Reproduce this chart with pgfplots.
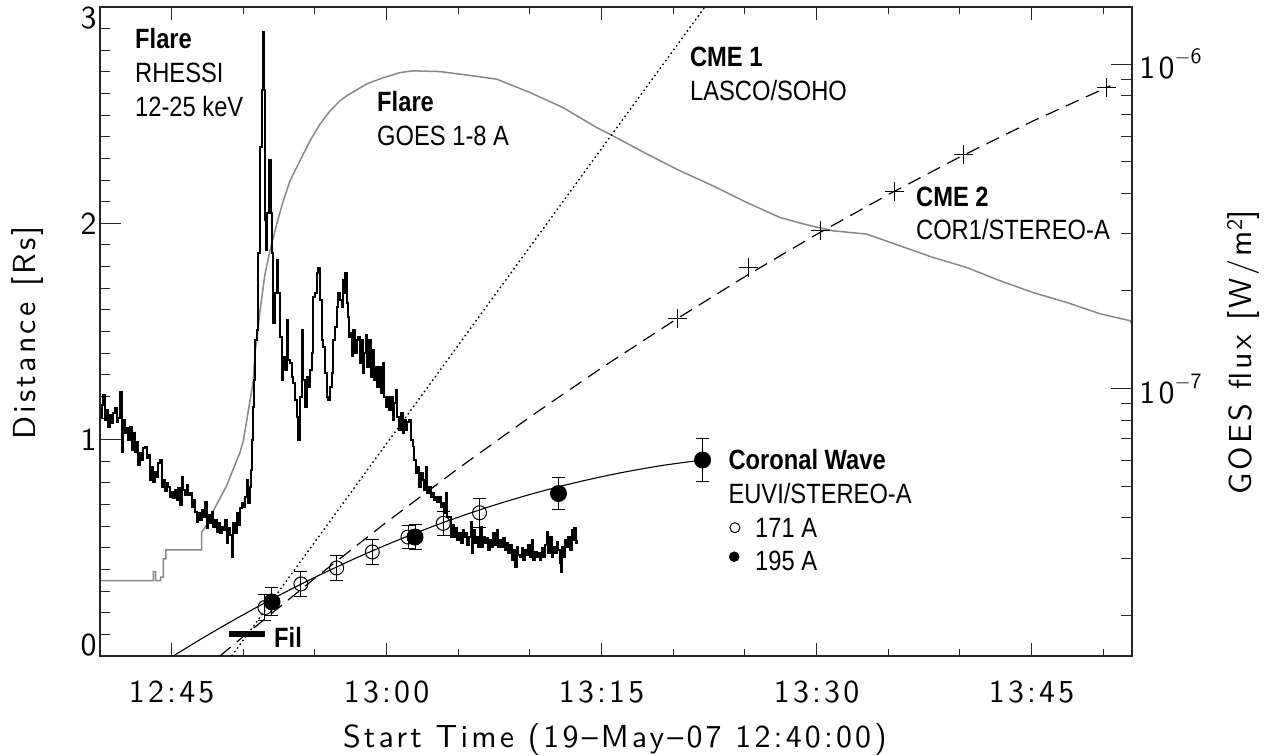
\documentclass[border=0pt]{standalone}
\usepackage{fontspec}
\usepackage{pgfplots}
\pgfplotsset{compat=1.18}
\newfontfamily\annot[FakeStretch=0.85]{Liberation Sans}
\newfontfamily\lms[LetterSpace=10]{lmsans10-regular.otf}
\newcommand\tf{\lms\fontsize{32}{38}\selectfont}
\newcommand\af{\annot\fontsize{28}{32}\selectfont}
\definecolor{goesgray}{gray}{0.53}
\definecolor{axc}{gray}{0.15}

\pgfplotstableread{
t y
0.000 1.106
0.119 1.160
0.230 1.207
0.349 1.091
0.467 1.137
0.579 1.060
0.698 1.114
0.816 1.076
0.928 1.122
1.047 1.145
1.165 1.083
1.277 1.099
1.395 1.222
1.514 0.944
1.626 1.091
1.744 1.029
1.863 1.053
1.974 0.998
2.093 1.060
2.212 0.952
2.323 1.029
2.442 0.944
2.560 0.991
2.672 0.883
2.791 0.937
2.909 0.906
3.021 0.960
3.140 0.968
3.258 0.914
3.370 0.929
3.488 0.814
3.607 0.875
3.719 0.806
3.837 0.852
3.956 0.829
4.067 0.891
4.186 0.906
4.305 0.783
4.416 0.814
4.535 0.760
4.653 0.798
4.765 0.783
4.884 0.736
5.002 0.760
5.114 0.729
5.233 0.767
5.351 0.721
5.463 0.775
5.581 0.698
5.700 0.829
5.812 0.767
5.930 0.744
6.049 0.790
6.160 0.744
6.279 0.752
6.398 0.690
6.509 0.721
6.628 0.667
6.746 0.621
6.858 0.660
6.977 0.629
7.095 0.675
7.207 0.644
7.326 0.713
7.444 0.590
7.556 0.652
7.674 0.613
7.793 0.667
7.905 0.598
8.023 0.629
8.142 0.575
8.253 0.613
8.372 0.567
8.491 0.598
8.602 0.582
8.721 0.629
8.840 0.521
8.951 0.590
9.070 0.559
9.188 0.459
9.300 0.613
9.419 0.567
9.537 0.660
9.649 0.606
9.767 0.683
9.886 0.706
9.998 0.690
10.116 0.736
10.235 0.814
10.347 0.706
10.465 0.783
10.514 0.860
10.584 0.998
10.695 1.152
10.765 1.276
10.814 1.461
10.933 1.507
11.044 1.862
11.163 2.354
11.282 2.616
11.352 2.886
11.442 2.616
11.512 2.015
11.581 1.877
11.672 2.046
11.812 2.293
11.909 2.046
11.979 1.862
12.091 1.538
12.209 1.677
12.328 1.831
12.440 1.677
12.558 1.476
12.677 1.276
12.788 1.384
12.907 1.322
13.026 1.553
13.137 1.368
13.256 1.353
13.374 1.291
13.486 1.261
13.605 1.183
13.723 1.106
13.835 1.000
13.953 1.199
14.072 1.507
14.184 1.276
14.302 1.152
14.421 1.291
14.533 1.245
14.651 1.322
14.770 1.399
14.882 1.661
15.000 1.677
15.119 1.769
15.230 1.792
15.349 1.646
15.467 1.461
15.579 1.430
15.698 1.307
15.816 1.199
15.928 1.183
16.047 1.245
16.165 1.307
16.277 1.461
16.395 1.522
16.514 1.615
16.626 1.677
16.744 1.646
16.863 1.615
16.933 1.738
17.023 1.677
17.093 1.769
17.212 1.630
17.323 1.568
17.393 1.476
17.491 1.492
17.561 1.384
17.672 1.507
17.791 1.399
17.910 1.461
18.021 1.476
18.140 1.353
18.258 1.461
18.328 1.307
18.419 1.399
18.558 1.484
18.649 1.337
18.788 1.461
18.886 1.291
19.025 1.415
19.116 1.276
19.256 1.337
19.346 1.245
19.486 1.337
19.584 1.214
19.723 1.353
19.814 1.199
19.953 1.152
20.044 1.199
20.184 1.137
20.281 1.199
20.421 1.091
20.512 1.168
20.651 1.230
20.742 1.106
20.882 1.045
20.979 1.122
21.119 1.029
21.210 1.091
21.349 1.045
21.440 1.083
21.579 1.091
21.677 0.998
21.816 0.968
21.907 0.906
22.047 0.845
22.137 0.875
22.277 0.783
22.374 0.845
22.514 0.814
22.605 0.767
22.744 0.875
22.835 0.752
22.974 0.783
23.072 0.736
23.212 0.752
23.302 0.721
23.442 0.736
23.533 0.713
23.672 0.736
23.770 0.690
23.909 0.706
24.000 0.660
24.140 0.752
24.230 0.644
24.370 0.644
24.47 0.551
24.61 0.606
24.70 0.551
24.84 0.590
24.93 0.536
25.07 0.567
25.17 0.521
25.30 0.582
25.40 0.551
25.53 0.567
25.63 0.513
25.77 0.551
25.86 0.621
25.95 0.475
26.05 0.582
26.16 0.521
26.28 0.551
26.39 0.505
26.51 0.598
26.63 0.505
26.74 0.551
26.86 0.521
26.98 0.544
27.09 0.490
27.21 0.536
27.33 0.505
27.44 0.567
27.56 0.513
27.68 0.582
27.79 0.505
27.91 0.536
28.03 0.505
28.14 0.544
28.26 0.490
28.37 0.521
28.49 0.475
28.61 0.513
28.72 0.444
28.84 0.490
28.96 0.413
29.07 0.505
29.19 0.467
29.30 0.459
29.42 0.498
29.53 0.444
29.65 0.490
29.77 0.467
29.88 0.513
30.00 0.459
30.12 0.536
30.23 0.444
30.35 0.482
30.47 0.459
30.58 0.475
30.70 0.444
30.81 0.498
30.93 0.459
31.05 0.513
31.16 0.575
31.28 0.475
31.40 0.551
31.51 0.459
31.63 0.505
31.74 0.475
31.86 0.528
31.98 0.490
32.09 0.429
32.16 0.390
32.23 0.505
32.33 0.459
32.44 0.536
32.56 0.505
32.67 0.551
32.79 0.490
32.91 0.582
33.02 0.536
33.09 0.590
33.21 0.521
33.30 0.536
}\rhessi

\pgfplotstableread{
t f
0 2.563e-8
3.72 2.563e-8
3.72 2.731e-8
3.88 2.731e-8
3.88 2.563e-8
4.23 2.563e-8
4.23 2.624e-8
4.42 2.624e-8
4.42 2.988e-8
4.60 2.988e-8
4.60 3.185e-8
7.09 3.185e-8
7.09 3.608e-8
7.33 3.738e-8
7.67 3.922e-8
7.79 4.112e-8
8.18 4.432e-8
8.84 5.027e-8
9.30 5.657e-8
9.77 6.365e-8
10.00 6.917e-8
10.235 7.968e-8
10.465 9.183e-8
10.695 1.058e-7
10.814 1.279e-7
11.163 1.735e-7
11.512 2.256e-7
11.86 2.661e-7
12.328 3.215e-7
12.788 3.793e-7
13.256 4.370e-7
13.953 5.037e-7
14.651 5.802e-7
15.349 6.534e-7
16.047 7.180e-7
16.744 7.709e-7
17.21 7.988e-7
18.61 8.696e-7
19.74 9.073e-7
20.93 9.421e-7
21.84 9.537e-7
23.72 9.488e-7
26.02 9.204e-7
27.68 8.991e-7
30.00 8.177e-7
32.30 7.351e-7
34.65 6.378e-7
35.79 6.014e-7
38.14 5.292e-7
40.47 4.690e-7
42.77 4.218e-7
45.12 3.749e-7
47.44 3.370e-7
49.30 3.199e-7
51.14 3.066e-7
53.49 2.995e-7
55.81 2.756e-7
58.12 2.538e-7
60.47 2.363e-7
62.79 2.151e-7
65.09 1.979e-7
67.44 1.844e-7
69.77 1.702e-7
71.86 1.620e-7
72.00 1.585e-7
}\goes

\pgfplotstableread{
t y
5.11 0
7 0.0765
9 0.1538
11 0.2275
13 0.2976
15 0.3640
18 0.4569
21 0.5416
24 0.6182
27 0.6865
30 0.7467
33 0.7987
36 0.8425
39 0.8783
42.02 0.906
}\wavefit

\pgfplotstableread{
t y
8.37 0.000
10 0.090
15 0.360
20 0.619
25 0.867
30 1.105
35 1.332
40 1.548
45 1.754
50 1.949
55 2.133
60 2.307
65 2.470
70.5 2.636
}\cmetwofit

\pgfplotstableread{
t y
40.31 1.561
45.23 1.795
50.28 1.966
55.42 2.146
60.23 2.319
70.24 2.629
}\cmetwo

\pgfplotstableread{
t y e
11.51 0.224 0.058
14.02 0.333 0.058
16.51 0.407 0.058
19.00 0.481 0.056
21.49 0.550 0.054
23.95 0.613 0.057
26.48 0.662 0.066
}\wopen

\pgfplotstableread{
t y e
12.00 0.250 0.065
21.98 0.550 0.058
31.99 0.751 0.072
42.04 0.906 0.100
}\wfilled

\pgfplotsset{base/.style={at={(100bp,100bp)}, anchor=south west,
  scale only axis, width=1032bp, height=649bp, xmin=0, xmax=72,
  tick align=inside, axis line style={line width=1.2bp, axc},
  tick style={line width=1bp, axc},
  /pgf/number format/assume math mode=true}}

\begin{document}
\begin{tikzpicture}
% right axis: GOES flux (log)
\begin{axis}[base, ymode=log, ymin=1.5e-8, ymax=1.5e-6,
  xtick=\empty, ytick pos=right, yticklabel pos=right,
  ytick={1e-7,1e-6},
  yticklabels={{10\raisebox{15bp}{\fontsize{22}{24}\selectfont$-$7}},{10\raisebox{15bp}{\fontsize{22}{24}\selectfont$-$6}}},
  minor ytick={2e-8,3e-8,4e-8,5e-8,6e-8,7e-8,8e-8,9e-8,2e-7,3e-7,4e-7,5e-7,6e-7,7e-7,8e-7,9e-7},
  major tick length=20.7bp, minor tick length=10.7bp,
  yticklabel style={font=\tf, xshift=4bp},
  ylabel={GOES flux\hspace{0.45em}[W/m\textsuperscript{2}]},
  every axis y label/.style={at={(axis description cs:1.1076,0.468)}, anchor=center, rotate=90, font=\tf}]
\addplot[goesgray, line width=1.5bp] table[x=t, y=f] {\goes};
\end{axis}
% left y ticks
\begin{axis}[base, ymin=0, ymax=3, xtick=\empty,
  ytick={0,1,2,3},
  yticklabels={{\raisebox{10.5bp}[21bp][0pt]{0}},1,2,{\raisebox{-11bp}[21bp][0pt]{3}}},
  ytick pos=left,
  minor ytick={0.1,0.2,...,2.95},
  major tick length=20.7bp, minor tick length=10bp,
  yticklabel style={font=\tf},
  ylabel={Distance\hspace{0.5em}[Rs]},
  every axis y label/.style={at={(axis description cs:-0.0698,0.498)}, anchor=center, rotate=90, font=\tf}]
\end{axis}
% main data axis
\begin{axis}[base, ymin=0, ymax=3,
  xtick={5,20,35,50,65}, xticklabels={12:45,13:00,13:15,13:30,13:45},
  minor xtick={10,15,25,30,40,45,55,60,70},
  ytick=\empty,
  major tick length=13bp, minor tick length=7bp,
  xticklabel style={font=\tf, yshift=-21bp},
  xlabel={Start Time (19\textendash May\textendash 07 12:40:00)},
  every axis x label/.style={at={(axis description cs:0.499,-0.128)}, anchor=center, font=\tf}]
\addplot[black, line width=1.8bp, const plot] table[x=t, y=y] {\rhessi};
\addplot[black, line width=1.4bp, dash pattern=on 1.6bp off 3bp] coordinates {(9.19,0) (42.2,3.0)};
\addplot[black, line width=1.2bp, dash pattern=on 14bp off 8bp] table[x=t, y=y] {\cmetwofit};
\addplot[black, only marks, mark=+, mark size=9.5bp, mark options={line width=1.2bp}] table[x=t, y=y] {\cmetwo};
\addplot[black, line width=1.1bp, smooth] table[x=t, y=y] {\wavefit};
\addplot[black, line width=1bp, only marks, mark=o, mark size=7bp,
  error bars/.cd, y dir=both, y explicit, error bar style={line width=1bp},
  error mark options={rotate=90, mark size=6.5bp, line width=1bp}]
  table[x=t, y=y, y error=e] {\wopen};
\addplot[black, line width=1bp, only marks, mark=*, mark size=8bp,
  error bars/.cd, y dir=both, y explicit, error bar style={line width=1bp},
  error mark options={rotate=90, mark size=6.5bp, line width=1bp}]
  table[x=t, y=y, y error=e] {\wfilled};
\addplot[black, line width=6.7bp] coordinates {(9.0,0.1017) (11.51,0.1017)};
\addplot[black, only marks, mark=o, mark size=5bp, line width=1bp] coordinates {(44.30,0.593)};
\addplot[black, only marks, mark=*, mark size=5bp] coordinates {(44.25,0.459)};
\node[anchor=base west, inner sep=0pt, font=\af] at (axis cs:2.442,2.810) {\bfseries Flare};
\node[anchor=base west, inner sep=0pt, font=\af] at (axis cs:2.442,2.653) {RHESSI};
\node[anchor=base west, inner sep=0pt, font=\af] at (axis cs:2.442,2.496) {12-25 keV};
\node[anchor=base west, inner sep=0pt, font=\af] at (axis cs:19.33,2.515) {\bfseries Flare};
\node[anchor=base west, inner sep=0pt, font=\af] at (axis cs:19.33,2.362) {GOES 1-8 A};
\node[anchor=base west, inner sep=0pt, font=\af] at (axis cs:41.16,2.724) {\bfseries CME 1};
\node[anchor=base west, inner sep=0pt, font=\af] at (axis cs:41.16,2.570) {LASCO/SOHO};
\node[anchor=base west, inner sep=0pt, font=\af] at (axis cs:56.93,2.0755) {\bfseries CME 2};
\node[anchor=base west, inner sep=0pt, font=\af] at (axis cs:56.93,1.923) {COR1/STEREO-A};
\node[anchor=base west, inner sep=0pt, font=\af] at (axis cs:43.84,0.864) {\bfseries Coronal Wave};
\node[anchor=base west, inner sep=0pt, font=\af] at (axis cs:43.84,0.707) {EUVI/STEREO-A};
\node[anchor=base west, inner sep=0pt, font=\af] at (axis cs:45.70,0.550) {171 A};
\node[anchor=base west, inner sep=0pt, font=\af] at (axis cs:45.70,0.3975) {195 A};
\node[anchor=base west, inner sep=0pt, font=\af] at (axis cs:12.14,0.037) {\bfseries Fil};
\end{axis}
\pgfresetboundingbox
\path[use as bounding box] (0bp,0bp) rectangle (1274bp,756bp);
\end{tikzpicture}
\end{document}
